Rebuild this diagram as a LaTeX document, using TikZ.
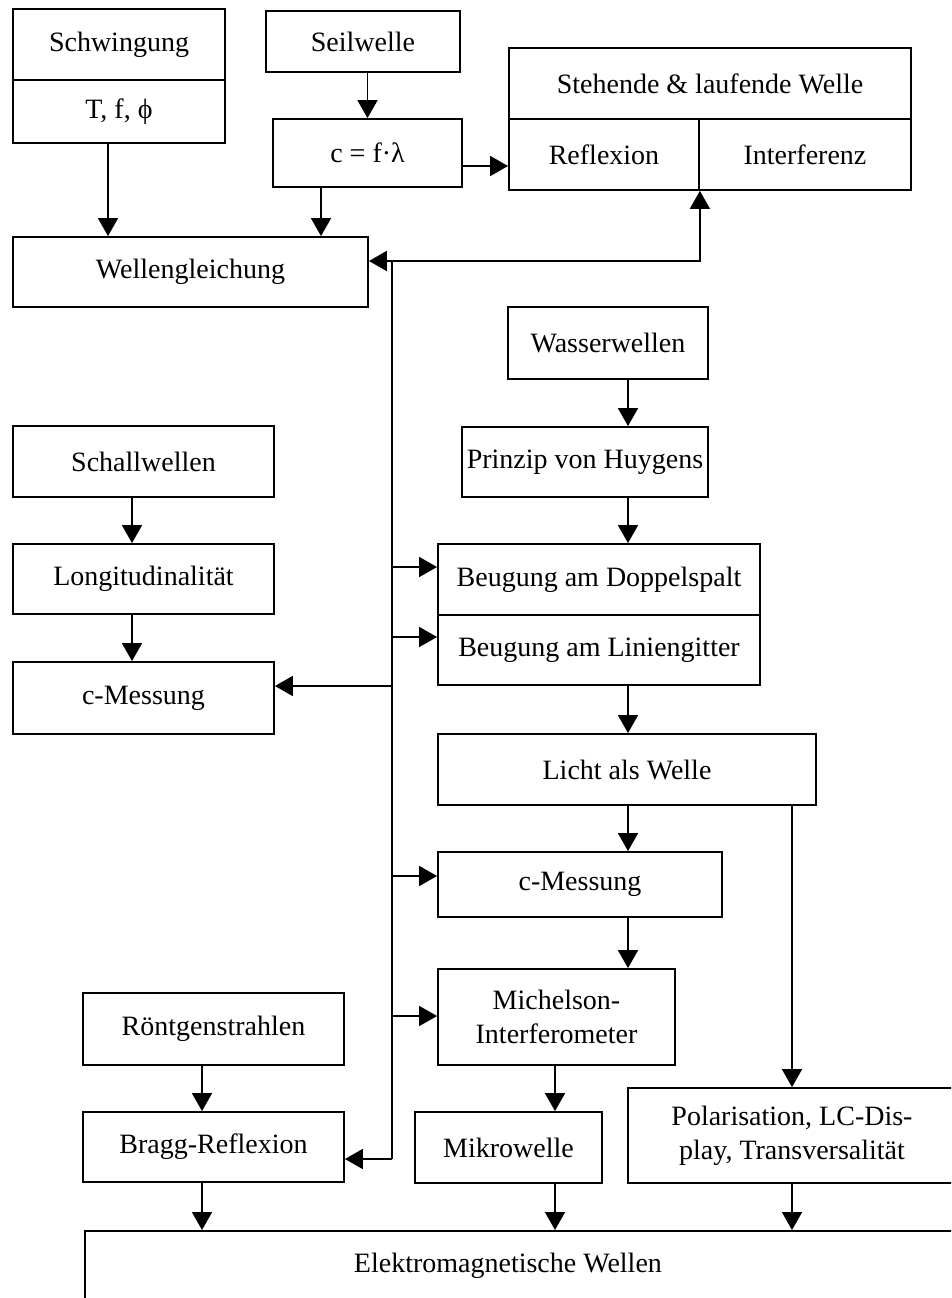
\documentclass[tikz,border=0pt]{standalone}
\usepackage{fontspec}
\setmainfont{Liberation Serif}
\usetikzlibrary{arrows.meta}

\begin{document}
\begin{tikzpicture}
[
	x=1pt, y=-1pt,
	box/.style={draw,line width=1.8pt,inner sep=0pt,align=center,
		font=\fontsize{28}{34}\selectfont},
	arr/.style={line width=1.6pt,-{Triangle[width=20pt,length=18pt]}},
	bus/.style={line width=1.6pt}
]
	\useasboundingbox (0,0) rectangle (951,1298);
	\clip (0,0) rectangle (951,1298);

	% top
	\node[box,minimum width=212pt,minimum height=71pt] (schw) at (119,44.5) {Schwingung};
	\node[box,minimum width=212pt,minimum height=63pt] (tfphi) at (119,111.5) {T, f, ϕ};
	\node[box,minimum width=194pt,minimum height=61pt] (seil) at (363,41.5) {Seilwelle};
	\node[box,minimum width=189pt,minimum height=68pt] (cfl) at (367.5,153) {c = f·λ};
	\node[box,minimum width=355pt,minimum height=70pt] (wg) at (190.5,272) {Wellengleichung};
	\node[box,minimum width=402pt,minimum height=71pt] (steh) at (710,83.5) {Stehende \& laufende Welle};
	\node[box,minimum width=190pt,minimum height=71pt] (refl) at (604,154.5) {Reflexion};
	\node[box,minimum width=212pt,minimum height=71pt] (interf) at (805,154.5) {Interferenz};

	% right column
	\node[box,minimum width=200pt,minimum height=72pt] (wasser) at (608,343) {Wasserwellen};
	\node[box,minimum width=246pt,minimum height=70pt] (huyg) at (585,462) {Prinzip von Huygens};
	\node[box,minimum width=322pt,minimum height=71pt] (doppel) at (599,579.5) {Beugung am Doppelspalt};
	\node[box,minimum width=322pt,minimum height=70pt] (gitter) at (599,650) {Beugung am Liniengitter};
	\node[box,minimum width=378pt,minimum height=71pt] (licht) at (627,769.5) {Licht als Welle};
	\node[box,minimum width=284pt,minimum height=65pt] (cmessr) at (580,884.5) {c-Messung};
	\node[box,minimum width=237pt,minimum height=96pt] (michel) at (556.5,1017) {Michelson-\\Interferometer};
	\node[box,minimum width=187pt,minimum height=71pt] (mikro) at (508.5,1147.5) {Mikrowelle};
	\node[box,minimum width=328pt,minimum height=95pt] (polar) at (792,1135.5) {Polarisation, LC-Dis-\\play, Transversalität};

	% left column
	\node[box,minimum width=261pt,minimum height=71pt] (schall) at (143.5,461.5) {Schallwellen};
	\node[box,minimum width=261pt,minimum height=70pt] (longi) at (143.5,579) {Longitudinalität};
	\node[box,minimum width=261pt,minimum height=72pt] (cmessl) at (143.5,698) {c-Messung};
	\node[box,minimum width=261pt,minimum height=72pt] (roent) at (213.5,1029) {Röntgenstrahlen};
	\node[box,minimum width=261pt,minimum height=70pt] (bragg) at (213.5,1147) {Bragg-Reflexion};

	% bottom
	\node[box,anchor=north west,minimum width=900pt,minimum height=70pt] (em) at (84,1230)
		{\hspace*{-54pt}Elektromagnetische Wellen};

	% lanes
	\coordinate (lA) at (108,0);
	\coordinate (lB) at (321,0);
	\coordinate (lC) at (132,0);
	\coordinate (lD) at (628,0);
	\coordinate (lE) at (202,0);
	\coordinate (lF) at (555,0);
	\coordinate (hR) at (0,166);

	\draw[arr] (tfphi.south -| lA) -- (wg.north -| lA);
	\draw[arr] (seil.south -| cfl.north) -- (cfl.north);
	\draw[arr] (cfl.south -| lB) -- (wg.north -| lB);
	\draw[arr] (cfl.east |- hR) -- (refl.west |- hR);

	\draw[arr] (schall.south -| lC) -- (longi.north -| lC);
	\draw[arr] (longi.south -| lC) -- (cmessl.north -| lC);

	\draw[arr] (wasser.south -| lD) -- (huyg.north -| lD);
	\draw[arr] (huyg.south -| lD) -- (doppel.north -| lD);
	\draw[arr] (gitter.south -| lD) -- (licht.north -| lD);
	\draw[arr] (licht.south -| lD) -- (cmessr.north -| lD);
	\draw[arr] (cmessr.south -| lD) -- (michel.north -| lD);
	\draw[arr] (licht.south -| polar.north) -- (polar.north);

	\draw[arr] (roent.south -| lE) -- (bragg.north -| lE);
	\draw[arr] (michel.south -| lF) -- (mikro.north -| lF);
	\draw[arr] (bragg.south -| lE) -- (em.north -| lE);
	\draw[arr] (mikro.south -| lF) -- (em.north -| lF);
	\draw[arr] (polar.south) -- (em.north -| polar.south);

	% bus
	\coordinate (bustop) at (392,261);
	\coordinate (busbot) at (392,1159);
	\draw[bus] (bustop) -- (busbot);
	\draw[arr] (bustop) -- (wg.east |- bustop);
	\draw[arr] (bustop) -| (refl.south east);
	\draw[arr] (busbot) -- (bragg.east |- busbot);
	\foreach \n/\y in {doppel/567, gitter/637, cmessr/876, michel/1016}
	{
		\coordinate (b) at (392,\y);
		\draw[arr] (b) -- (\n.west |- b);
	}
	\coordinate (b) at (392,686);
	\draw[arr] (b) -- (cmessl.east |- b);

\end{tikzpicture}
\end{document}
